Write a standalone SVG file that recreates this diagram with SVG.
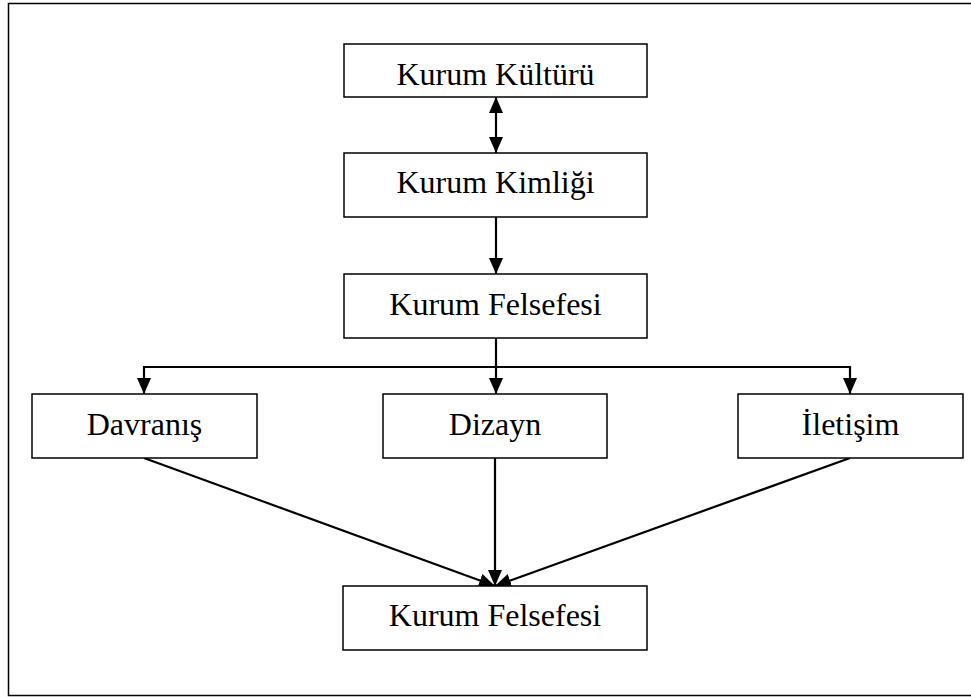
<svg xmlns="http://www.w3.org/2000/svg" width="971" height="697" viewBox="0 0 971 697">
<defs>
<marker id="ah" viewBox="0 0 16 14" refX="16" refY="7" markerWidth="16" markerHeight="14" markerUnits="userSpaceOnUse" orient="auto-start-reverse">
<path d="M0,0 L16,7 L0,14 Z" fill="#000"/>
</marker>
<style>
.box{fill:#fff;stroke:#000;stroke-width:1.5}
.lbl{font-family:"Liberation Serif","Times New Roman",serif;font-size:32px;fill:#000;text-anchor:middle}
.c{fill:none;stroke:#000;stroke-width:2.2}
</style>
</defs>
<rect width="971" height="697" fill="#fff"/>
<rect x="8.5" y="3.5" width="980" height="692" fill="none" stroke="#000" stroke-width="1.5"/>
<g id="connectors">
<line class="c" x1="496" y1="97" x2="496" y2="153" marker-start="url(#ah)" marker-end="url(#ah)"/>
<line class="c" x1="496" y1="217" x2="496" y2="274" marker-end="url(#ah)"/>
<line class="c" x1="496" y1="338" x2="496" y2="367"/>
<polyline class="c" points="144,394 144,367 850,367 850,394" marker-start="url(#ah)" marker-end="url(#ah)"/>
<line class="c" x1="496" y1="367" x2="496" y2="394" marker-end="url(#ah)"/>
<line class="c" x1="144" y1="458" x2="495" y2="586" marker-end="url(#ah)"/>
<line class="c" x1="495" y1="458" x2="495" y2="586" marker-end="url(#ah)"/>
<line class="c" x1="850" y1="458" x2="495" y2="586" marker-end="url(#ah)"/>
</g>
<g id="n1"><rect class="box" x="344" y="44" width="303" height="53"/><text class="lbl" x="495.5" y="85">Kurum Kültürü</text></g>
<g id="n2"><rect class="box" x="344" y="153" width="303" height="64"/><text class="lbl" x="495.5" y="193">Kurum Kimliği</text></g>
<g id="n3"><rect class="box" x="344" y="274" width="303" height="64"/><text class="lbl" x="495.5" y="315">Kurum Felsefesi</text></g>
<g id="n4"><rect class="box" x="32" y="394" width="225" height="64"/><text class="lbl" x="144.5" y="435">Davranış</text></g>
<g id="n5"><rect class="box" x="383" y="394" width="224" height="64"/><text class="lbl" x="495" y="435">Dizayn</text></g>
<g id="n6"><rect class="box" x="738" y="394" width="225" height="64"/><text class="lbl" x="850.5" y="435">İletişim</text></g>
<g id="n7"><rect class="box" x="343" y="586" width="304" height="64"/><text class="lbl" x="495" y="626">Kurum Felsefesi</text></g>
</svg>
